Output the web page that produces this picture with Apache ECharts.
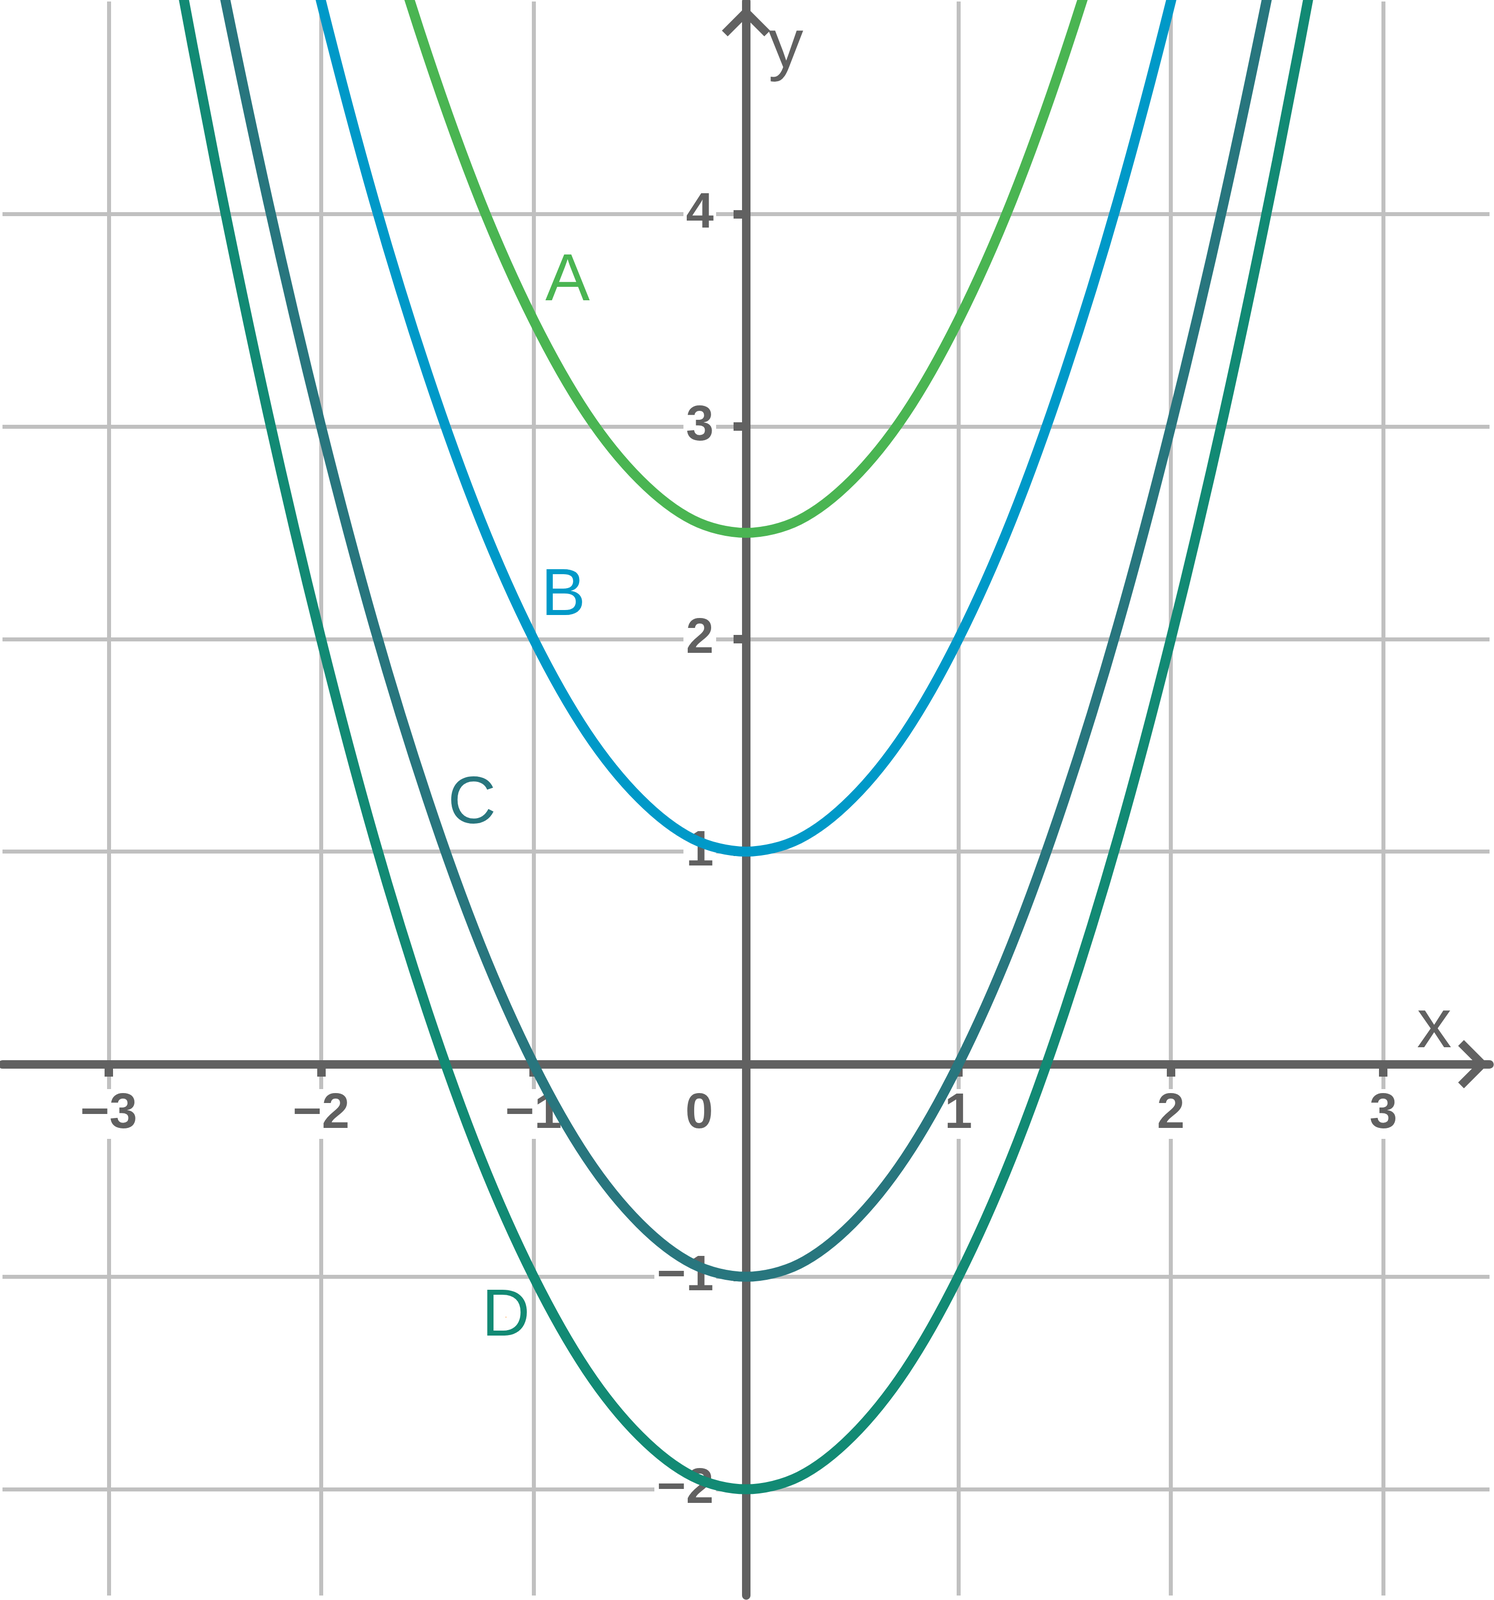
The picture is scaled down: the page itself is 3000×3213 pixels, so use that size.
<!DOCTYPE html>
<html>
<head>
<meta charset="utf-8">
<title>parabolas</title>
<script src="https://cdn.jsdelivr.net/npm/echarts@6/dist/echarts.min.js"></script>
<style>
    html, body { margin: 0; padding: 0; background: #fff; }
    #chartmain { width: 3000px; height: 3213px; }
</style>
</head>
<body>
<div id="chartmain"></div>
<script>
// x 取样点
var xs = [-2.75, -2.5, -2.25, -2, -1.75, -1.5, -1.25, -1, -0.75, -0.5, -0.25, 0,
    0.25, 0.5, 0.75, 1, 1.25, 1.5, 1.75, 2, 2.25, 2.5, 2.75];
// 曲线 y 值
var curveA = [10.06, 8.75, 7.56, 6.5, 5.56, 4.75, 4.06, 3.5, 3.06, 2.75, 2.56, 2.5,
    2.56, 2.75, 3.06, 3.5, 4.06, 4.75, 5.56, 6.5, 7.56, 8.75, 10.06];
var curveB = [8.56, 7.25, 6.06, 5, 4.06, 3.25, 2.56, 2, 1.56, 1.25, 1.06, 1,
    1.06, 1.25, 1.56, 2, 2.56, 3.25, 4.06, 5, 6.06, 7.25, 8.56];
var curveC = [6.56, 5.25, 4.06, 3, 2.06, 1.25, 0.56, 0, -0.44, -0.75, -0.94, -1,
    -0.94, -0.75, -0.44, 0, 0.56, 1.25, 2.06, 3, 4.06, 5.25, 6.56];
var curveD = [5.56, 4.25, 3.06, 2, 1.06, 0.25, -0.44, -1, -1.44, -1.75, -1.94, -2,
    -1.94, -1.75, -1.44, -1, -0.44, 0.25, 1.06, 2, 3.06, 4.25, 5.56];
var curveNames = ['A', 'B', 'C', 'D'];
// 刻度
var xTicks = [-3, -2, -1, 1, 2, 3];
var xLabels = [-3, -2, -1, 0, 1, 2, 3];
var yTicks = [-2, -1, 1, 2, 3, 4];

// 样式
var colors = ['#4ab552', '#0099c8', '#28767e', '#128a74'];
var labelAt = [[-0.84, 3.68], [-0.86, 2.2], [-1.29, 1.22], [-1.13, -1.19]];
var axisColor = '#616161';
var gridColor = '#c0c0c0';
var fontFamily = '"Liberation Sans", Arial, Helvetica, sans-serif';
var chevron = 'path://M50,0L100,50L88,62L50,24L12,62L0,50Z';

function fmtNum(v) {
    return v < 0 ? '\u2212' + Math.abs(v) : String(v);
}

var tickLabelStyle = {
    show: true,
    opacity: 1,
    fontSize: 100,
    fontWeight: 'bold',
    fontFamily: fontFamily,
    color: axisColor,
    backgroundColor: '#fff',
    padding: [0, 5]
};

var series = [];
var seriesData = [curveA, curveB, curveC, curveD];
for (let i = 0; i < seriesData.length; i++) {
    var pts = [];
    for (let j = 0; j < xs.length; j++) {
        pts.push([xs[j], seriesData[i][j]]);
    }
    series.push({
        name: curveNames[i],
        type: 'line',
        z: 3,
        data: pts,
        smooth: 0.33,
        symbol: 'none',
        clip: true,
        lineStyle: { color: colors[i], width: 20 },
        markPoint: {
            symbol: 'circle',
            symbolSize: 0,
            data: [{ coord: labelAt[i], value: curveNames[i] }],
            label: {
                show: true,
                position: 'inside',
                formatter: curveNames[i],
                fontSize: 134,
                fontFamily: fontFamily,
                color: colors[i]
            }
        }
    });
}

// 坐标轴数字 (放在零线上, 在曲线下面)
var xLabelData = [];
for (let i = 0; i < xLabels.length; i++) {
    var item = { value: [xLabels[i], 0] };
    if (xLabels[i] === 0) {
        item.label = { offset: [-94, 0] }; // 原点的 0 放在 y 轴左侧
    }
    xLabelData.push(item);
}
series.push({
    type: 'scatter',
    z: 1,
    silent: true,
    symbolSize: 0,
    itemStyle: { opacity: 1 },
    data: xLabelData,
    label: Object.assign({
        position: 'bottom',
        distance: 50,
        formatter: function (p) { return fmtNum(p.value[0]); }
    }, tickLabelStyle)
});
var yLabelData = [];
for (let i = 0; i < yTicks.length; i++) {
    yLabelData.push([0, yTicks[i]]);
}
series.push({
    type: 'scatter',
    z: 1,
    silent: true,
    symbolSize: 0,
    itemStyle: { opacity: 1 },
    data: yLabelData,
    label: Object.assign({
        position: 'left',
        distance: 60,
        formatter: function (p) { return fmtNum(p.value[1]); }
    }, tickLabelStyle)
});

var myChart = echarts.init(document.getElementById('chartmain'), null, { renderer: 'canvas' });
var option = {
    animation: false,
    backgroundColor: '#fff',
    grid: { left: 5, right: 9, top: 3, bottom: 9, containLabel: false, outerBoundsMode: 'none' },
    xAxis: {
        type: 'value',
        min: -3.5,
        max: 3.5,
        interval: 0.5,
        name: 'x',
        nameLocation: 'end',
        nameGap: -111,
        nameTextStyle: {
            fontSize: 140, fontFamily: fontFamily, color: axisColor,
            align: 'center', verticalAlign: 'bottom', padding: [0, 0, 3, 0]
        },
        axisLine: {
            onZero: true,
            lineStyle: { color: axisColor, width: 17 },
            symbol: ['none', chevron],
            symbolSize: [97, 60],
            symbolOffset: [0, -33]
        },
        axisTick: {
            customValues: xTicks,
            length: 25,
            lineStyle: { color: axisColor, width: 17 }
        },
        axisLabel: { show: false },
        splitLine: { show: true, lineStyle: { color: gridColor, width: 8 } }
    },
    yAxis: {
        type: 'value',
        min: -2.5,
        max: 5,
        interval: 0.5,
        name: 'y',
        nameLocation: 'end',
        nameGap: -23,
        nameTextStyle: {
            fontSize: 140, fontFamily: fontFamily, color: axisColor,
            align: 'left', verticalAlign: 'top', padding: [0, 0, 0, 45]
        },
        axisLine: {
            onZero: true,
            lineStyle: { color: axisColor, width: 17 },
            symbol: ['none', chevron],
            symbolSize: [97, 60],
            symbolOffset: [0, -40]
        },
        axisTick: {
            customValues: yTicks,
            length: 25,
            lineStyle: { color: axisColor, width: 17 }
        },
        axisLabel: { show: false },
        splitLine: { show: true, lineStyle: { color: gridColor, width: 8 } }
    },
    series: series
};
myChart.setOption(option);
</script>
</body>
</html>
